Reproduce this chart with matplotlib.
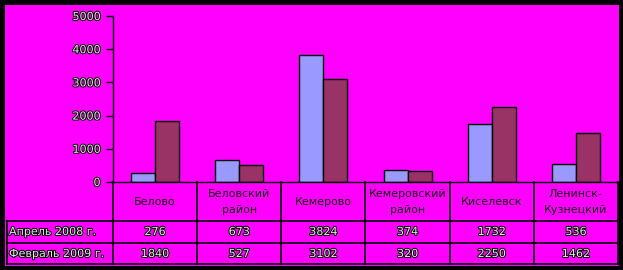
import matplotlib
matplotlib.use('Agg')
import matplotlib.pyplot as plt
import matplotlib.patheffects as pe
from matplotlib.patches import Rectangle
from matplotlib.transforms import blended_transform_factory
import numpy as np

categories = ['Белово', 'Беловский\nрайон', 'Кемерово', 'Кемеровский\nрайон', 'Киселевск', 'Ленинск-\nКузнецкий']
series_names = ['Апрель 2008 г.', 'Февраль 2009 г.']
apr_2008 = [276, 673, 3824, 374, 1732, 536]
feb_2009 = [1840, 527, 3102, 320, 2250, 1462]
colors = ['#9999ff', '#993366']
y_ticks = [0, 1000, 2000, 3000, 4000, 5000]

W, H = 623, 270
fig = plt.figure(figsize=(W / 100, H / 100), dpi=100)
fig.patch.set_facecolor('black')
plt.rcParams['font.family'] = ['DejaVu Sans']

# magenta chart area
fig.patches.append(Rectangle((5 / W, 4 / H), 614 / W, 261 / H, transform=fig.transFigure,
                             facecolor='#ff00ff', edgecolor='none', zorder=-5))

def fy(py):
    return 1 - py / H

ax_left, ax_right = 113 / W, 618 / W
ax_top, ax_bot = fy(16), fy(182)
ax = fig.add_axes([ax_left, ax_bot, ax_right - ax_left, ax_top - ax_bot])
ax.set_facecolor('none')
x = np.arange(len(categories))
bw = 0.285
ax.bar(x - bw / 2, apr_2008, bw, color=colors[0], edgecolor='black', linewidth=1)
ax.bar(x + bw / 2, feb_2009, bw, color=colors[1], edgecolor='black', linewidth=1)
ax.set_xlim(-0.5, len(categories) - 0.5)
ax.set_ylim(0, 5000)
ax.set_yticks(y_ticks)
ax.set_xticks([])
for s in ['top', 'right']:
    ax.spines[s].set_visible(False)
ax.spines['left'].set_linewidth(1)
ax.spines['bottom'].set_linewidth(1)
ax.tick_params(axis='y', length=5, width=1, pad=4, colors='black')
stroke = [pe.withStroke(linewidth=1.4, foreground='black')]
for lab in ax.get_yticklabels():
    lab.set_fontsize(8)
    lab.set_color('#e8e8e8')
    lab.set_path_effects(stroke)

# data table below the axis
tr = blended_transform_factory(ax.transData, fig.transFigure)
lc = dict(color='black', linewidth=1.2, clip_on=False)
ax.plot([len(categories) - 0.5] * 2, [fy(182), fy(264)], transform=tr, **lc)
for i in range(len(categories) - 1):
    ax.plot([i + 0.5] * 2, [fy(182), fy(264)], transform=tr, **lc)
ax.plot([-0.5, -0.5], [fy(182), fy(264)], transform=tr, **lc)
for py in (221, 243, 264):
    fig.add_artist(plt.Line2D([7 / W, ax_right], [fy(py), fy(py)], **lc))
fig.add_artist(plt.Line2D([7 / W, 7 / W], [fy(221), fy(264)], **lc))

for i, c in enumerate(categories):
    ax.text(i, fy(202), c, transform=tr, ha='center', va='center', fontsize=8,
            color='#181818', linespacing=1.8)
    for vals, py in ((apr_2008, 232), (feb_2009, 254)):
        ax.text(i, fy(py), str(vals[i]), transform=tr, ha='center', va='center',
                fontsize=8, color='#e8e8e8', path_effects=stroke)
for name, py in zip(series_names, (232, 254)):
    fig.text(9 / W, fy(py), name, ha='left', va='center', fontsize=8,
             color='#e8e8e8', path_effects=stroke)

fig.savefig('out.png', dpi=100, facecolor=fig.get_facecolor())
